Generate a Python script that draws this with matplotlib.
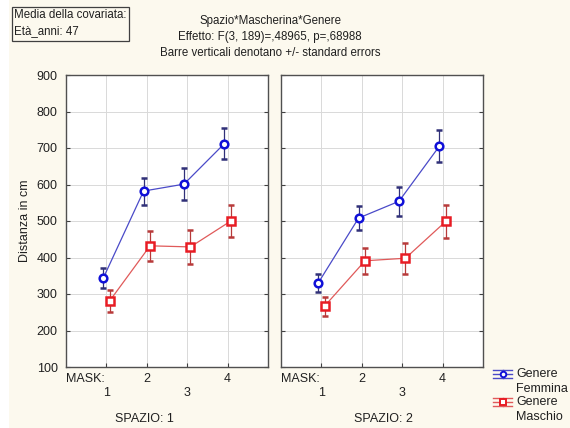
import matplotlib
matplotlib.use("Agg")
import matplotlib.pyplot as plt
from matplotlib.patches import Rectangle
from matplotlib.lines import Line2D
import numpy as np

plt.rcParams['font.family'] = ['Liberation Sans', 'DejaVu Sans']

mask = [1, 2, 3, 4]
spazio_labels = ["SPAZIO: 1", "SPAZIO: 2"]
femmina_mean = [[343, 582, 601, 712], [330, 508, 554, 705]]
femmina_se = [[27, 37, 43, 43], [25, 34, 40, 44]]
maschio_mean = [[281, 432, 429, 500], [267, 391, 398, 499]]
maschio_se = [[29, 41, 47, 45], [26, 36, 43, 46]]
yticks = [100, 200, 300, 400, 500, 600, 700, 800, 900]
title_lines = ["Spazio*Mascherina*Genere",
               "Effetto: F(3, 189)=,48965, p=,68988",
               "Barre verticali denotano +/- standard errors"]
cov_lines = ["Media della covariata:", "Età_anni: 47"]
legend_labels = [("Genere", "Femmina"), ("Genere", "Maschio")]

W, H = 570, 428
fig = plt.figure(figsize=(W / 100, H / 100), dpi=100, facecolor="white")
cream = "#fcf9ee"
fig.add_artist(Rectangle((9 / W, 0), 1, 1, transform=fig.transFigure,
                         facecolor=cream, edgecolor="none", zorder=-10))

blue_m = "#1010d8"
blue_l = "#4a4ac8"
blue_e = "#303078"
red_m = "#e81c24"
red_l = "#e05a5a"
red_e = "#b83a3a"

def px2fig(x, y):
    return x / W, 1 - y / H

axes_px = [(66, 268), (281, 483)]
top_px, bot_px = 75, 367
spazio_cx = [0.386, 0.505]
for i, (xl, xr) in enumerate(axes_px):
    ax = fig.add_axes([xl / W, 1 - bot_px / H, (xr - xl) / W, (bot_px - top_px) / H])
    ax.set_facecolor("white")
    ax.set_xlim(0, 5)
    ax.set_ylim(100, 900)
    ax.set_xticks(mask)
    ax.set_yticks(yticks)
    ax.grid(True, color="#d9d9d9", linewidth=0.7)
    ax.set_axisbelow(True)
    for s in ax.spines.values():
        s.set_color("#505050")
        s.set_linewidth(1.0)
    ax.tick_params(axis="both", direction="in", length=3, width=0.8, color="#404040",
                   left=True, right=True, bottom=True, top=False,
                   labelbottom=False, labelsize=9, labelcolor="#202020", pad=6)
    if i == 1:
        ax.tick_params(axis="y", labelleft=False)
    x = np.array(mask, dtype=float)
    ax.errorbar(x - 0.08, femmina_mean[i], yerr=femmina_se[i], color=blue_l, lw=0.9,
                ecolor=blue_e, elinewidth=0.9, capsize=2.5, capthick=0.9,
                marker="o", ms=5.5, mfc="white", mec=blue_m, mew=1.8, zorder=3)
    ax.errorbar(x + 0.08, maschio_mean[i], yerr=maschio_se[i], color=red_l, lw=0.9,
                ecolor=red_e, elinewidth=0.9, capsize=2.5, capthick=0.9,
                marker="s", ms=5.5, mfc="white", mec=red_m, mew=1.8, zorder=3)
    tr = ax.get_xaxis_transform()
    ax.text(0.0, -0.041, "MASK:", transform=ax.transAxes, ha="left", va="center",
            fontsize=9, color="#202020")
    for m in mask:
        yy = -0.041 if m % 2 == 0 else -0.089
        ax.text(m, yy, str(m), transform=tr, ha="center", va="center",
                fontsize=9, color="#202020")
    ax.text(spazio_cx[i], -0.178, spazio_labels[i], transform=ax.transAxes,
            ha="center", va="center", fontsize=9, color="#202020")

fig.text(25 / W, 1 - 221 / H, "Distanza in cm", rotation=90, ha="center", va="center",
         fontsize=9, color="#202020")

for k, (line, yp) in enumerate(zip(title_lines, [21, 37, 53])):
    fig.text(270 / W, 1 - yp / H, line, ha="center", va="center", fontsize=8.3,
             color="#202020")

fig.add_artist(Rectangle(px2fig(12, 41), 117 / W, 34 / H, transform=fig.transFigure,
                         facecolor=cream, edgecolor="#404040", linewidth=0.9))
for line, yp in zip(cov_lines, [15, 31]):
    fig.text(14 / W, 1 - yp / H, line, ha="left", va="center", fontsize=8.3,
             color="#202020")

# legend
leg_specs = [(374, blue_l, blue_m, "o", legend_labels[0]),
             (402, red_l, red_m, "s", legend_labels[1])]
for yc, lc, mc, mk, (l1, l2) in leg_specs:
    for dy in (-4, 0, 4):
        x0, y0 = px2fig(493, yc + dy)
        x1, _ = px2fig(512, yc + dy)
        fig.add_artist(Line2D([x0, x1], [y0, y0], transform=fig.transFigure,
                              color=lc, lw=1.0))
    xm, ym = px2fig(502.5, yc)
    fig.add_artist(Line2D([xm, xm], [px2fig(0, yc - 4)[1], px2fig(0, yc + 4)[1]],
                          transform=fig.transFigure, color=lc, lw=1.0))
    fig.add_artist(Line2D([xm], [ym], transform=fig.transFigure, marker=mk, ms=4,
                          mfc="white", mec=mc, mew=1.4, linestyle="none"))
    fig.text(516 / W, 1 - yc / H, l1, ha="left", va="center", fontsize=9, color="#202020")
    fig.text(516 / W, 1 - (yc + 15.5) / H, l2, ha="left", va="center", fontsize=9,
             color="#202020")

fig.savefig("out.png", dpi=100, facecolor=fig.get_facecolor())
